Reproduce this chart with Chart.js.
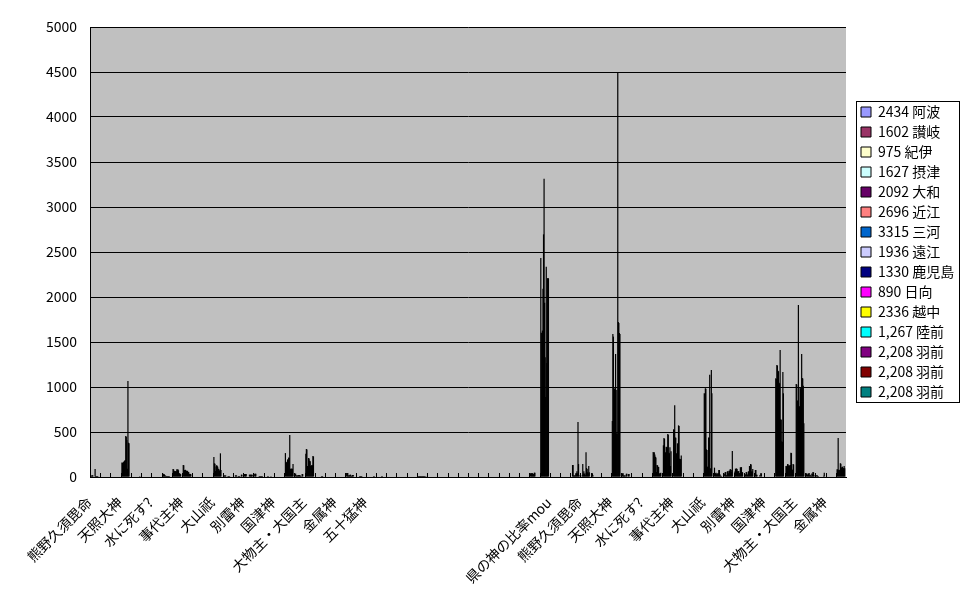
<!DOCTYPE html>
<html>
<head>
<meta charset="utf-8">
<script src="https://cdn.jsdelivr.net/npm/chart.js@4/dist/chart.umd.min.js"></script>
<style>
  html, body { margin: 0; padding: 0; background: #fff; }
</style>
</head>
<body>
<canvas id="myChart" width="970" height="604"></canvas>
<script>
// 74 categories, only every 3rd one carries a visible name
const categories = [
  '熊野久須毘命', '', '', '天照大神', '', '', '水に死す?', '', '', '事代主神',
  '', '', '大山祇', '', '', '別雷神', '', '', '国津神', '',
  '', '大物主・大国主', '', '', '金属神', '', '', '五十猛神', '', '',
  '', '', '', '', '', '', '', '', '', '',
  '', '', '', '', '', '県の神の比率mou', '', '', '熊野久須毘命', '',
  '', '天照大神', '', '', '水に死す?', '', '', '事代主神', '', '',
  '大山祇', '', '', '別雷神', '', '', '国津神', '', '', '大物主・大国主',
  '', '', '金属神', ''
];

const awa = [18,0,0,160,0,0,0,40,89,133, 0,0,222,18,0,33,37,0,0,266, 40,259,0,0,0,44,0,0,0,0, 0,0,11,0,0,0,0,0,0,0, 0,0,0,41,2434,0,0,0,0,41, 0,622,41,0,0,277,352,530,0,0, 930,104,40,60,20,78,0,1096,122,1033, 40,20,0,85];
const sanuki = [15,0,0,155,0,0,0,30,86,130, 0,0,152,18,0,33,37,0,0,166, 18,311,0,0,0,44,0,0,0,0, 0,0,11,0,0,0,0,0,0,0, 0,0,0,41,1602,0,0,0,20,41, 0,1589,41,0,0,270,433,522,0,0, 925,41,55,93,30,78,0,1090,118,1028, 38,20,0,82];
const kii = [20,0,0,162,0,0,0,33,70,78, 0,0,148,18,18,33,37,0,0,160, 18,305,0,0,0,44,0,0,0,0, 0,0,11,0,0,0,0,0,0,0, 0,0,0,41,975,0,0,133,144,20, 0,1560,18,0,0,274,425,796,0,0, 985,41,55,90,55,25,0,1244,125,850, 25,10,0,433];
const settsu = [18,0,0,165,0,0,0,28,63,75, 0,0,67,18,18,33,0,0,0,170, 18,122,0,0,0,18,0,0,0,0, 0,0,11,0,0,0,0,0,0,0, 0,0,0,41,1627,0,0,133,40,0, 0,737,18,0,0,250,278,440,0,0, 980,48,20,96,52,25,0,1238,144,846, 28,10,0,78];
const yamato = [0,0,0,174,0,0,0,18,66,80, 0,0,118,0,18,0,0,0,0,196, 18,118,0,0,0,18,0,0,0,0, 0,0,11,0,0,0,0,0,0,0, 0,0,0,41,2092,0,0,18,63,0, 0,985,18,0,0,226,270,436,0,0, 307,30,20,88,25,0,0,1181,140,1911, 40,0,0,75];
const oumi = [0,0,0,180,0,0,0,16,60,75, 0,0,130,0,0,0,0,11,0,190, 22,211,0,0,0,18,11,0,0,0, 0,0,11,0,0,0,0,0,0,0, 0,0,0,33,2696,0,0,18,30,0, 0,960,18,0,0,218,337,263,0,0, 300,30,63,63,28,0,0,1175,122,790, 44,0,0,80];
const mikawa = [0,0,0,189,0,0,0,11,65,67, 0,0,126,0,0,0,0,11,0,218, 22,206,0,0,0,26,11,0,0,0, 0,0,11,0,0,0,0,0,0,0, 0,0,0,33,3315,0,0,18,41,0, 0,1367,0,0,0,55,330,258,0,0, 115,41,63,60,63,0,0,1048,126,784, 20,0,0,152];
const totomi = [89,0,0,455,0,0,0,11,85,64, 0,0,115,11,11,0,0,0,0,212, 22,181,0,0,0,26,11,0,0,0, 0,0,11,0,0,0,0,0,0,0, 0,0,0,48,1936,0,0,18,20,0, 0,967,37,0,0,133,330,374,0,0, 112,41,41,66,60,0,0,1040,130,990, 25,0,0,148];
const kagoshima = [11,0,0,448,0,0,0,11,80,69, 0,0,93,11,11,0,11,0,0,466, 22,176,0,0,0,11,11,0,11,0, 0,0,11,0,0,0,0,0,0,0, 0,0,0,48,1330,0,0,41,274,0, 0,485,37,0,0,130,478,370,0,0, 440,78,70,41,122,20,0,1411,134,985, 10,0,0,107];
const hyuga = [11,0,0,411,0,0,0,11,85,52, 0,0,90,11,11,26,11,0,0,92, 11,122,0,0,0,11,11,0,11,0, 0,0,11,0,0,0,0,0,0,0, 0,0,0,0,890,0,0,41,100,0, 0,478,0,0,0,115,470,574,0,0, 436,78,70,44,118,0,0,641,270,994, 12,0,0,104];
const etchu = [11,0,0,92,0,0,0,11,75,55, 0,0,70,11,11,26,11,0,0,88, 11,126,11,0,0,22,0,0,0,0, 0,0,11,0,0,0,0,0,0,0, 0,0,0,0,2336,0,0,63,89,0, 0,4500,0,0,0,110,270,568,0,0, 1137,30,85,107,144,41,0,636,266,1367, 40,0,0,115];
const rikuzen = [11,0,0,1067,0,0,0,11,45,33, 0,0,74,0,0,26,11,11,0,95, 0,133,11,0,0,22,0,0,0,0, 0,0,11,0,0,0,0,0,0,0, 0,0,0,0,1267,0,0,41,52,0, 0,1722,33,0,0,40,265,204,0,0, 96,15,85,104,140,41,0,396,78,1100, 36,0,0,100];
const uzen1 = [11,0,0,381,0,0,0,11,40,36, 0,0,263,0,0,26,11,0,0,90, 33,130,11,0,0,22,0,11,0,0, 0,0,11,0,0,0,0,0,0,0, 0,0,0,0,2208,0,0,611,40,0, 0,1710,33,0,0,38,330,200,0,0, 92,15,55,110,60,0,0,390,82,1094, 55,0,0,96];
const uzen2 = [0,0,0,375,0,0,0,0,35,33, 0,0,78,0,26,26,11,0,0,92, 33,233,0,0,0,0,0,11,0,0, 0,0,0,0,0,0,0,0,0,0, 0,0,0,0,2208,0,0,144,122,0, 0,1600,0,0,0,45,122,196,0,0, 1189,10,78,55,64,0,0,1167,144,1015, 52,15,0,122];
const uzen3 = [0,0,0,0,11,0,0,0,30,30, 0,0,0,0,26,26,11,0,0,144, 0,228,0,0,0,0,0,0,0,0, 0,0,11,0,0,0,0,0,0,0, 0,0,0,0,2208,0,0,20,52,0, 0,1590,0,0,0,48,285,240,0,0, 930,0,289,52,90,0,0,930,140,596, 20,48,0,96];

const seriesNames = ['2434 阿波', '1602 讃岐', '975 紀伊', '1627 摂津', '2092 大和', '2696 近江', '3315 三河', '1936 遠江',
  '1330 鹿児島', '890 日向', '2336 越中', '1,267 陸前', '2,208 羽前', '2,208 羽前', '2,208 羽前'];
const seriesColors = ['#9999ff', '#993366', '#ffffcc', '#ccffff', '#660066', '#ff8080', '#0066cc', '#ccccff',
  '#000080', '#ff00ff', '#ffff00', '#00ffff', '#800080', '#800000', '#008080'];
const seriesValues = [awa, sanuki, kii, settsu, yamato, oumi, mikawa, totomi, kagoshima, hyuga, etchu, rikuzen, uzen1, uzen2, uzen3];

const yMax = 5000;
const yStep = 500;

Chart.defaults.font.family = '"Noto Sans CJK JP", "Liberation Sans", sans-serif';
Chart.defaults.font.size = 14;
Chart.defaults.color = '#000';

// gray plot area like excel
const plotBg = {
  id: 'plotBg',
  beforeDraw(chart) {
    const { ctx, chartArea: a } = chart;
    ctx.save();
    ctx.fillStyle = '#c0c0c0';
    ctx.fillRect(a.left, a.top, a.right - a.left, a.bottom - a.top);
    ctx.restore();
  }
};

// small tick marks inside the plot, between categories
const innerTicks = {
  id: 'innerTicks',
  afterDatasetsDraw(chart) {
    const { ctx } = chart;
    const x = chart.scales.x;
    const step = x.width / categories.length;
    ctx.save();
    ctx.strokeStyle = '#000';
    ctx.lineWidth = 1;
    ctx.beginPath();
    for (let i = 1; i < categories.length; i++) {
      const px = Math.round(x.left + i * step) + 0.5;
      ctx.moveTo(px, x.top);
      ctx.lineTo(px, x.top - 4);
    }
    ctx.stroke();
    ctx.restore();
  }
};

// frame around the legend
const legendFrame = {
  id: 'legendFrame',
  afterDraw(chart) {
    const lg = chart.legend;
    const hb = lg.legendHitBoxes;
    if (!hb || !hb.length) return;
    const l = lg.left + 1;
    const r = lg.right;
    const t = hb[0].top - 4;
    const b = hb[hb.length - 1].top + hb[hb.length - 1].height + 3;
    const ctx = chart.ctx;
    ctx.save();
    ctx.strokeStyle = '#000';
    ctx.lineWidth = 1;
    ctx.strokeRect(l + 0.5, t + 0.5, r - l - 1, b - t);
    ctx.restore();
  }
};

const ctx = document.getElementById('myChart').getContext('2d');

const myChart = new Chart(ctx, {
  type: 'bar',
  data: {
    labels: categories,
    datasets: seriesValues.map((vals, i) => ({
      label: seriesNames[i],
      data: vals,
      backgroundColor: '#000',
      borderWidth: 0,
      categoryPercentage: 0.8,
      barPercentage: 2.2
    }))
  },
  options: {
    responsive: false,
    animation: false,
    events: [],
    layout: { padding: { top: 27, right: 10, bottom: 0, left: 0 } },
    plugins: {
      tooltip: { enabled: false },
      legend: {
        position: 'right',
        fullSize: false,
        maxWidth: 105,
        labels: {
          boxWidth: 10,
          boxHeight: 10,
          padding: 6,
          font: { size: 14 },
          generateLabels: () => seriesNames.map((name, i) => ({
            text: name,
            fillStyle: seriesColors[i],
            strokeStyle: '#000',
            lineWidth: 1,
            hidden: false,
            datasetIndex: i,
            fontColor: '#000'
          }))
        }
      }
    },
    scales: {
      x: {
        offset: true,
        grid: { display: false, drawTicks: false },
        border: { display: true, color: '#000', width: 1 },
        ticks: {
          autoSkip: false,
          maxRotation: 45,
          minRotation: 45,
          padding: 17,
          labelOffset: -6,
          font: { size: 14 }
        },
        afterFit: (axis) => { axis.height = 127; }
      },
      y: {
        min: 0,
        max: yMax,
        grid: { color: '#000', lineWidth: 1, drawTicks: false },
        border: { display: true, color: '#000', width: 1 },
        ticks: {
          stepSize: yStep,
          padding: 13,
          font: { size: 14 },
          callback: (v) => String(v)
        },
        afterFit: (axis) => { axis.width = 90; }
      },
      gap: {
        type: 'linear',
        position: 'right',
        grid: { display: false, drawTicks: false },
        border: { display: false },
        ticks: { display: false },
        afterFit: (axis) => { axis.width = 9; }
      }
    }
  },
  plugins: [plotBg, innerTicks, legendFrame]
});
</script>
</body>
</html>
